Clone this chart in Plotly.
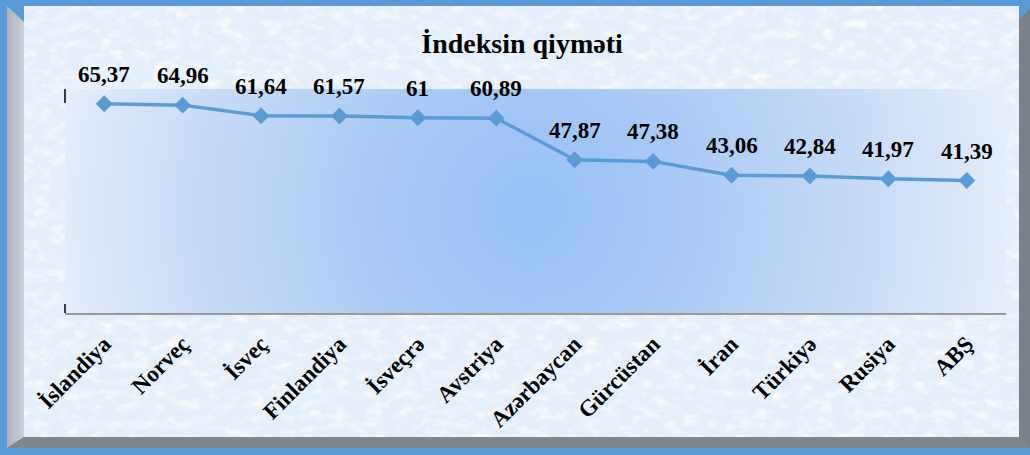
import base64
import plotly.graph_objects as go

countries = ["İslandiya", "Norveç", "İsveç", "Finlandiya", "İsveçrə", "Avstriya",
             "Azərbaycan", "Gürcüstan", "İran", "Türkiyə", "Rusiya", "ABŞ"]
values = [65.37, 64.96, 61.64, 61.57, 61, 60.89, 47.87, 47.38, 43.06, 42.84, 41.97, 41.39]
title_text = "İndeksin qiyməti"

labels = [f"{v:g}".replace(".", ",") for v in values]

W, H = 1030, 455
L, R, T, B = 65, 24, 89, 142
PW, PH = W - L - R, H - T - B

svg = f'''<svg xmlns="http://www.w3.org/2000/svg" width="{W}" height="{H}" viewBox="0 0 {W} {H}" preserveAspectRatio="none">
<defs>
<filter id="n" x="0" y="0" width="100%" height="100%">
<feTurbulence type="fractalNoise" baseFrequency="0.09 0.15" numOctaves="4" seed="7"/>
<feColorMatrix type="matrix" values="0 0 0 0 0.78  0 0 0 0 0.86  0 0 0 0 0.96  2.6 0 0 0 -1.0"/>
</filter>
<filter id="w" x="0" y="0" width="100%" height="100%">
<feTurbulence type="fractalNoise" baseFrequency="0.06 0.1" numOctaves="3" seed="21"/>
<feColorMatrix type="matrix" values="0 0 0 0 1  0 0 0 0 1  0 0 0 0 1  0 2.2 0 0 -0.95"/>
</filter>
<radialGradient id="g" gradientUnits="userSpaceOnUse" cx="530" cy="210" r="490">
<stop offset="0" stop-color="#97bff4"/>
<stop offset="0.3" stop-color="#a8c9f4"/>
<stop offset="0.7" stop-color="#c9dcf7"/>
<stop offset="1" stop-color="#e6eefa"/>
</radialGradient>
<linearGradient id="lb" x1="0" x2="1" y1="0" y2="0">
<stop offset="0" stop-color="#a9b2bc"/>
<stop offset="1" stop-color="#c9d0d8"/>
</linearGradient>
</defs>
<rect width="{W}" height="{H}" fill="#5b9bd5"/>
<rect x="24" y="6" width="995" height="431" fill="#e4eef9"/>
<rect x="24" y="6" width="995" height="431" fill="#ffffff" filter="url(#w)"/>
<rect x="24" y="6" width="995" height="431" fill="#ffffff" filter="url(#n)"/>
<polygon points="7,6 24,22 24,437 7,448" fill="url(#lb)"/>
<polygon points="1019,20 1030,8 1030,448 1019,437" fill="#7b8188"/>
<polygon points="24,437 1019,437 1030,448 7,448" fill="#80868d"/>
<rect x="{L}" y="{T}" width="{PW}" height="{PH}" fill="url(#g)"/>
</svg>'''
src = "data:image/svg+xml;base64," + base64.b64encode(svg.encode("utf-8")).decode("ascii")

serif = "Liberation Serif, Times New Roman, serif"

fig = go.Figure()
fig.add_trace(go.Scatter(
    x=countries, y=values, mode="lines+markers",
    line=dict(color="#5b9bd5", width=3.5),
    marker=dict(symbol="diamond", size=13, color="#5b9bd5"),
    cliponaxis=False, hoverinfo="skip",
))

annotations = [
    dict(x=c, y=v, xref="x", yref="y", text=t, showarrow=False, yanchor="bottom",
         xanchor="center", yshift=15,
         font=dict(family=serif, size=23, color="black", weight="bold"))
    for c, v, t in zip(countries, values, labels)
]

fig.update_layout(
    width=W, height=H,
    margin=dict(l=L, r=R, t=T, b=B, pad=0),
    paper_bgcolor="rgba(0,0,0,0)", plot_bgcolor="rgba(0,0,0,0)",
    showlegend=False,
    title=dict(text=title_text, x=522 / W, xanchor="center", y=1 - 43 / H, yanchor="middle",
               yref="container", xref="container",
               font=dict(family=serif, size=28, color="black", weight="bold")),
    xaxis=dict(type="category", range=[-0.5, len(countries) - 0.5], showgrid=False,
               showline=True, linecolor="#9a9a9a", linewidth=1.5, ticks="",
               tickangle=-45, ticklabelstandoff=7,
               tickfont=dict(family=serif, size=23, color="black", weight="bold"),
               zeroline=False, fixedrange=True),
    yaxis=dict(range=[0, 70], visible=False, fixedrange=True),
    annotations=annotations,
    images=[dict(source=src, xref="paper", yref="paper", x=-L / PW, y=1 + T / PH,
                 sizex=W / PW, sizey=H / PH, sizing="stretch", xanchor="left", yanchor="top",
                 layer="below")],
    shapes=[
        dict(type="line", xref="paper", yref="paper", x0=0, x1=0, y0=1, y1=1 - 14 / PH,
             line=dict(color="black", width=1.5)),
        dict(type="line", xref="paper", yref="paper", x0=0, x1=0, y0=0, y1=9 / PH,
             line=dict(color="black", width=1.5)),
    ],
)

fig.write_html("out.html", config={"displayModeBar": False, "staticPlot": True},
               post_script="document.body.style.margin='0px';")
